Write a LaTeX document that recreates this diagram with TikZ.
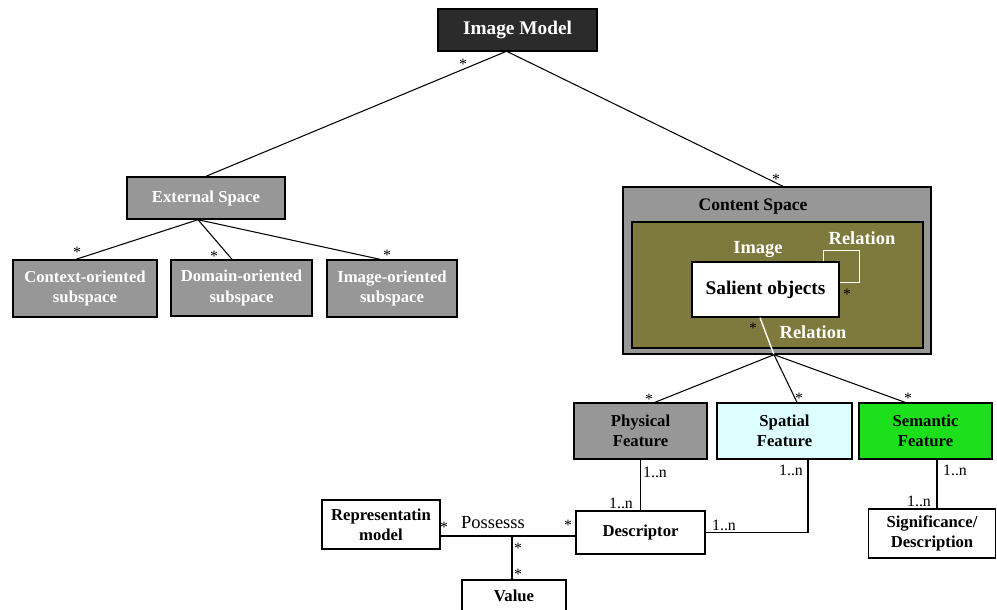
\documentclass[tikz,border=0pt]{standalone}
\usepackage{fontspec}
\setmainfont{Liberation Serif}
\usepackage{tikz}
\usetikzlibrary{positioning, calc}
\usepackage{xcolor}
\definecolor{darkbox}{HTML}{2B2B2B}
\definecolor{greybox}{HTML}{979797}
\definecolor{olivebox}{HTML}{7E793C}
\definecolor{spatialbox}{HTML}{DDFFFF}
\definecolor{semanticbox}{HTML}{1DE01D}
\tikzset{
  box/.style={rectangle, draw=black, line width=0.8pt, align=center,
              inner sep=2pt, font=\fontsize{9.5}{11.5}\selectfont\bfseries},
  boxG/.style={box, fill=greybox, text=white},
  boxW/.style={box, fill=white},
  conn/.style={draw=black, line width=0.6pt},
  mult/.style={font=\fontsize{9}{10}\selectfont, inner sep=1pt},
  relW/.style={font=\fontsize{10.5}{12}\selectfont\bfseries, text=white,
               inner sep=1pt},
}

\begin{document}
\begin{tikzpicture}[x=0.02cm, y=-0.02cm]
  \useasboundingbox (0,0) rectangle (997,609);
  \fill[white] (0,0) rectangle (997,609);

  %% Root
  \node[box, fill=darkbox, text=white, minimum width=3.18cm, minimum height=0.84cm,
        font=\fontsize{11}{13}\selectfont\bfseries] (model) at (517.5,30) {Image Model};

  %% External space and its subspaces
  \node[boxG, minimum width=3.16cm, minimum height=0.84cm] (ext) at (206,198) {External Space};
  \node[boxG, minimum width=2.88cm, minimum height=1.14cm] (ctx) at (85,288.5) {Context-oriented\\subspace};
  \node[boxG, minimum width=2.82cm, minimum height=1.12cm] (dom) at (241.5,288) {Domain-oriented\\subspace};
  \node[boxG, minimum width=2.6cm, minimum height=1.14cm] (imgsub) at (392,288.5) {Image-oriented\\subspace};

  %% Content space
  \node[box, fill=greybox, minimum width=6.16cm, minimum height=3.34cm] (content) at (777,270.5) {};
  \node[font=\fontsize{10}{12}\selectfont\bfseries] (contentlbl) at (753,207) {Content Space};
  \node[box, fill=olivebox, minimum width=5.82cm, minimum height=2.52cm] (inner) at (777.5,285) {};
  \node[boxW, minimum width=2.94cm, minimum height=1.1cm,
        font=\fontsize{11}{13}\selectfont\bfseries] (salient) at (765.5,289.5) {Salient objects};
  \node[relW] (imglbl) at (758,249) {Image};
  \node[relW] (rel1) at (862,238) {Relation};
  \node[relW] (rel2) at (813,332) {Relation};
  \draw[white, line width=0.8pt] ([shift={(-16,0)}]salient.north east) |- ++(36,-11)
    |- ([shift={(0,21)}]salient.north east);
  \node[mult] at (847,294) {*};
  \coordinate (jn) at ([shift={(-3,0)}]content.south);
  \draw[white, line width=0.8pt] ([shift={(-5.5,0)}]salient.south) -- (jn);
  \node[mult] at (753,328) {*};

  %% Features
  \node[boxG, text=black, minimum width=2.66cm, minimum height=1.12cm] (phys) at (640.5,431) {Physical\\Feature};
  \node[box, fill=spatialbox, minimum width=2.7cm, minimum height=1.12cm] (spat) at (784.5,431) {Spatial\\Feature};
  \node[box, fill=semanticbox, minimum width=2.66cm, minimum height=1.12cm] (sem) at (925.5,431) {Semantic\\Feature};

  %% Lower classes
  \node[boxW, minimum width=2.36cm, minimum height=0.98cm] (repr) at (381,524.5) {Representatin\\model};
  \node[boxW, minimum width=2.58cm, minimum height=0.86cm] (descr) at (640.5,532.5) {Descriptor};
  \node[boxW, minimum width=2.08cm, minimum height=0.64cm] (value) at (514,596) {Value};
  \node[boxW, minimum width=2.54cm, minimum height=0.98cm] (signif) at (932,533.5) {Significance/\\Description};

  %% Upper connectors
  \draw[conn] ([shift={(-12,0)}]model.south) -- (ext.north);
  \draw[conn] ([shift={(-10,0)}]model.south) -- ([shift={(6,0)}]content.north);
  \node[mult] at (463,64) {*};
  \node[mult] at (776,179) {*};
  \draw[conn] ([shift={(-8,0)}]ext.south) -- ([shift={(-9,0)}]ctx.north);
  \draw[conn] ([shift={(-8,0)}]ext.south) -- ([shift={(-9.5,0)}]dom.north);
  \draw[conn] ([shift={(-8,0)}]ext.south) -- ([shift={(-12,0)}]imgsub.north);
  \node[mult] at (77,252) {*};
  \node[mult] at (214,256) {*};
  \node[mult] at (387,255) {*};

  %% Feature connectors
  \draw[conn] (jn) -- ([shift={(14.5,0)}]phys.north);
  \draw[conn] (jn) -- ([shift={(12.5,0)}]spat.north);
  \draw[conn] (jn) -- ([shift={(-20.5,0)}]sem.north);
  \node[mult] at (649,399) {*};
  \node[mult] at (799,398) {*};
  \node[mult] at (908,398) {*};

  %% Lower connectors
  \draw[conn] (phys.south) -- (descr.north);
  \node[mult] at (655,472) {1..n};
  \node[mult] at (621,503) {1..n};
  \draw[conn] ([shift={(23.5,0)}]spat.south) |- (descr.east);
  \node[mult] at (791,470) {1..n};
  \node[mult] at (724,525) {1..n};
  \draw[conn] ([shift={(11.5,0)}]sem.south) -- ([shift={(11.5,0)}]sem.south |- signif.north);
  \node[mult] at (955,470) {1..n};
  \node[mult] at (919,501) {1..n};

  \coordinate (pos) at (512,536);
  \draw[conn] (repr.east |- pos) -- (descr.west |- pos);
  \draw[conn] (pos) -- (pos |- value.north);
  \node[mult, font=\fontsize{10.5}{12}\selectfont] at (493,523) {Possesss};
  \node[mult] at (444,527) {*};
  \node[mult] at (568,525) {*};
  \node[mult] at (518,548) {*};
  \node[mult] at (518,574) {*};
\end{tikzpicture}
\end{document}
